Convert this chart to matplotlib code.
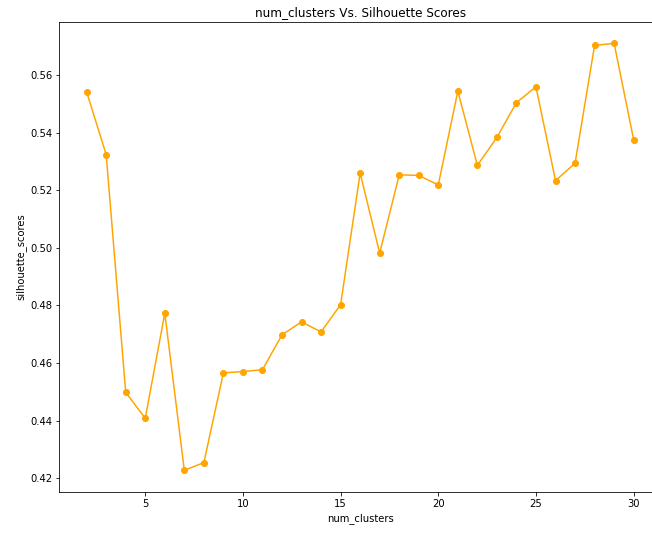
import matplotlib.pyplot as plt

# cluster counts and their silhouette scores
num_clusters = list(range(2, 31))
silhouette_scores = [0.5542, 0.5324, 0.4498, 0.4408, 0.4773, 0.4227, 0.4254,
                     0.4566, 0.4570, 0.4577, 0.4698, 0.4743, 0.4708, 0.4803,
                     0.5260, 0.4982, 0.5254, 0.5252, 0.5219, 0.5545, 0.5287,
                     0.5384, 0.5505, 0.5560, 0.5234, 0.5294, 0.5704, 0.5711,
                     0.5376]

fig = plt.figure(figsize=(652 / 72, 533 / 72), dpi=72)
# axes run a little past the right edge, like the cropped screenshot
ax = fig.add_axes([59.3 / 652, 41.3 / 533, 601.7 / 652, 469.7 / 533])

ax.plot(num_clusters, silhouette_scores, marker='o', color='orange')
ax.set_title('num_clusters Vs. Silhouette Scores')
ax.set_xlabel('num_clusters')
ax.set_ylabel('silhouette_scores')

plt.savefig('out.png', dpi=72)
plt.close()
